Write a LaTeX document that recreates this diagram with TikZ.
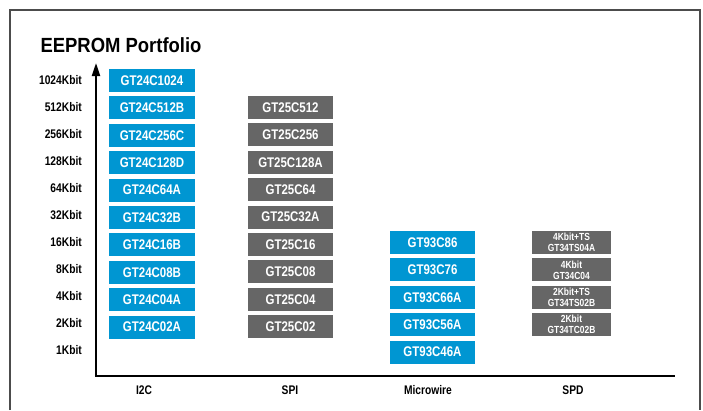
\documentclass[tikz,border=0pt]{standalone}
\usepackage{fontspec}
\setmainfont{Liberation Sans}[FakeStretch=0.82]
\newfontfamily\titlefont{Liberation Sans}[FakeStretch=0.9]
\usetikzlibrary{positioning,arrows.meta}
\definecolor{chipblue}{RGB}{0,150,210}
\definecolor{chipgray}{RGB}{102,102,102}

\begin{document}
\begin{tikzpicture}[
        x=1pt, y=-1pt, % координаты в пикселях, ось y вниз
        node distance=4pt, % Зазор между ячейками
        chip/.style={rectangle, minimum width=86pt, minimum height=23pt, inner sep=0pt, text=white, font=\bfseries\fontsize{14}{15}\selectfont},
        i2c/.style={chip, fill=chipblue},
        spi/.style={chip, fill=chipgray, minimum width=85pt},
        mw/.style={chip, fill=chipblue, minimum width=85pt},
        spd/.style={chip, fill=chipgray, minimum width=79pt, align=center, font=\bfseries\fontsize{10.3}{11}\selectfont}, % двухстрочные ячейки
        kbit/.style={anchor=east, inner sep=0pt, font=\bfseries\fontsize{12.5}{14}\selectfont},
        bus/.style={font=\bfseries\fontsize{12.5}{14}\selectfont},
        axis/.style={draw, line width=2pt},
    ]

    \useasboundingbox (0,0) rectangle (703,410);
    \draw[line width=1.2pt, black!70] (10,410) -- (10,10) -- (700,10) -- (700,410);

    \node[anchor=base west, font=\titlefont\bfseries\fontsize{20.5}{24}\selectfont] (title) at (37,52) {EEPROM Portfolio};

    % Оси
    \coordinate (origin) at (96,376);
    \coordinate (ytop) at (96,63);
    \coordinate (xend) at (675,376);
    \draw[axis, -{Triangle[length=13pt, width=8pt]}] (origin) -- (ytop);
    \draw[axis, line width=2.4pt] ([xshift=-1.2pt]origin) -- (xend);

    % Подписи объема
    \node[kbit] (k1024) at (82,80.5) {1024Kbit};
    \node[kbit] (k512) at (82,107.5) {512Kbit};
    \node[kbit] (k256) at (82,134.5) {256Kbit};
    \node[kbit] (k128) at (82,161.5) {128Kbit};
    \node[kbit] (k64) at (82,188.5) {64Kbit};
    \node[kbit] (k32) at (82,215.5) {32Kbit};
    \node[kbit] (k16) at (82,242.5) {16Kbit};
    \node[kbit] (k8) at (82,269.5) {8Kbit};
    \node[kbit] (k4) at (82,296.5) {4Kbit};
    \node[kbit] (k2) at (82,323.5) {2Kbit};
    \node[kbit] (k1) at (82,350.5) {1Kbit};

    % I2C
    \node[i2c] (i2c1024) at (152,80.5) {GT24C1024};
    \node[i2c, below=of i2c1024] (i2c512) {GT24C512B};
    \node[i2c, below=of i2c512] (i2c256) {GT24C256C};
    \node[i2c, below=of i2c256] (i2c128) {GT24C128D};
    \node[i2c, below=of i2c128] (i2c64) {GT24C64A};
    \node[i2c, below=of i2c64] (i2c32) {GT24C32B};
    \node[i2c, below=of i2c32] (i2c16) {GT24C16B};
    \node[i2c, below=of i2c16] (i2c8) {GT24C08B};
    \node[i2c, below=of i2c8] (i2c4) {GT24C04A};
    \node[i2c, below=of i2c4] (i2c2) {GT24C02A};

    % SPI
    \node[spi] (spi512) at (290.5,107.5) {GT25C512};
    \node[spi, below=of spi512] (spi256) {GT25C256};
    \node[spi, below=of spi256] (spi128) {GT25C128A};
    \node[spi, below=of spi128] (spi64) {GT25C64};
    \node[spi, below=of spi64] (spi32) {GT25C32A};
    \node[spi, below=of spi32] (spi16) {GT25C16};
    \node[spi, below=of spi16] (spi8) {GT25C08};
    \node[spi, below=of spi8] (spi4) {GT25C04};
    \node[spi, below=of spi4] (spi2) {GT25C02};

    % Microwire
    \node[mw] (mw16) at (432.5,242.5) {GT93C86};
    \node[mw, below=of mw16] (mw8) {GT93C76};
    \node[mw, below=of mw8] (mw4) {GT93C66A};
    \node[mw, below=of mw4] (mw2) {GT93C56A};
    \node[mw, below=of mw2] (mw1) {GT93C46A};

    % SPD
    \node[spd] (spd16) at (571.5,242.5) {4Kbit+TS\\GT34TS04A};
    \node[spd, below=of spd16] (spd8) {4Kbit\\GT34C04};
    \node[spd, below=of spd8] (spd4) {2Kbit+TS\\GT34TS02B};
    \node[spd, below=of spd4] (spd2) {2Kbit\\GT34TC02B};

    % Шины
    \node[bus] (busi2c) at (144,390) {I2C};
    \node[bus] (busspi) at (290,390) {SPI};
    \node[bus] (busmw) at (428,390) {Microwire};
    \node[bus] (busspd) at (573,390) {SPD};
\end{tikzpicture}
\end{document}
